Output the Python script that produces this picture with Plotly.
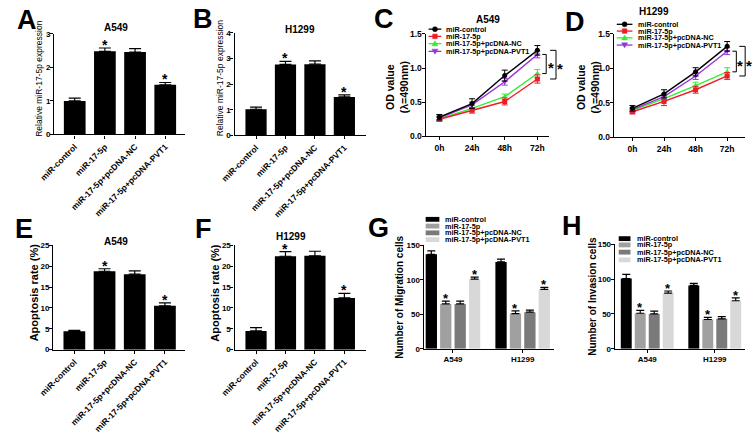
import plotly.graph_objects as go

# ---------------- data ----------------
groups = ["miR-control", "miR-17-5p", "miR-17-5p+pcDNA-NC", "miR-17-5p+pcDNA-PVT1"]

a_vals = [1.00, 2.48, 2.46, 1.48]
a_err = [0.08, 0.10, 0.10, 0.07]
b_vals = [1.02, 2.77, 2.78, 1.50]
b_err = [0.08, 0.12, 0.13, 0.08]

time_labels = ["0h", "24h", "48h", "72h"]
c_control = [0.28, 0.48, 0.89, 1.26]
c_control_err = [0.04, 0.07, 0.08, 0.07]
c_mir = [0.25, 0.38, 0.51, 0.84]
c_mir_err = [0.03, 0.04, 0.05, 0.06]
c_nc = [0.26, 0.41, 0.58, 0.92]
c_nc_err = [0.03, 0.04, 0.04, 0.06]
c_pvt1 = [0.27, 0.46, 0.80, 1.20]
c_pvt1_err = [0.03, 0.04, 0.05, 0.05]

d_control = [0.42, 0.63, 0.95, 1.32]
d_control_err = [0.04, 0.06, 0.06, 0.07]
d_mir = [0.37, 0.52, 0.69, 0.89]
d_mir_err = [0.03, 0.06, 0.05, 0.05]
d_nc = [0.39, 0.56, 0.75, 0.95]
d_nc_err = [0.03, 0.04, 0.05, 0.06]
d_pvt1 = [0.40, 0.59, 0.89, 1.25]
d_pvt1_err = [0.03, 0.04, 0.05, 0.05]

e_vals = [4.4, 18.8, 18.1, 10.5]
e_err = [0.2, 0.6, 0.8, 0.7]
f_vals = [4.5, 22.4, 22.5, 12.4]
f_err = [0.8, 1.1, 1.1, 1.1]

cell_lines = ["A549", "H1299"]
g_control = [137, 126]
g_control_err = [5, 4]
g_mir = [65, 51]
g_mir_err = [4, 4]
g_nc = [65, 53]
g_nc_err = [4, 3]
g_pvt1 = [101, 86]
g_pvt1_err = [3, 3]

h_control = [101, 91]
h_control_err = [6, 3]
h_mir = [51, 42]
h_mir_err = [4, 3]
h_nc = [50, 43]
h_nc_err = [4, 3]
h_pvt1 = [80, 69]
h_pvt1_err = [3, 4]

# ---------------- styling ----------------
W, H = 753, 434
FONT = "Liberation Sans, Arial, sans-serif"
line_colors = ["#000000", "#ee1c24", "#33ee33", "#9933dd"]
line_symbols = ["circle", "square", "triangle-up", "triangle-down"]
bar_grays = ["#000000", "#a0a0a0", "#7a7a7a", "#d8d8d8"]


def px(x):
    return x / W


def py(y):
    return 1 - y / H


fig = go.Figure()
annotations = []
shapes = []


def ax_names(i):
    s = "" if i == 1 else str(i)
    return "x" + s, "y" + s, "xaxis" + s, "yaxis" + s


def axis_style(size=8.5):
    return dict(showline=True, linecolor="black", linewidth=1.3, ticks="outside",
                ticklen=3, tickwidth=1.2, tickcolor="black", showgrid=False,
                zeroline=False, tickfont=dict(family=FONT, size=size, color="black", weight="bold"))


def text(x, y, t, size, bold=True, xref="paper", yref="paper", angle=0,
         xanchor="center", yanchor="middle", yshift=0, color="black"):
    annotations.append(dict(x=x, y=y, xref=xref, yref=yref, text=t, showarrow=False,
                            textangle=angle, xanchor=xanchor, yanchor=yanchor, yshift=yshift,
                            font=dict(family=FONT, size=size, color=color,
                                      weight="bold" if bold else "normal")))


def bar_panel(i, vals, errs, stars, dom, xr, ymax, dtick, title, tpos, ytitle, ypos, ysize, ybold):
    xa, ya, xk, yk = ax_names(i)
    fig.add_trace(go.Bar(x=list(range(len(vals))), y=vals, width=0.72, marker_color="black",
                         marker_line_width=0, xaxis=xa, yaxis=ya, showlegend=False,
                         error_y=dict(type="data", symmetric=False, array=errs,
                                      arrayminus=[0] * len(errs), color="black",
                                      thickness=1.2, width=6)))
    xs = axis_style()
    xs.update(domain=[px(dom[0]), px(dom[1])], range=xr, anchor=ya,
              tickvals=list(range(len(vals))), ticktext=groups, tickangle=-45)
    xs["tickfont"] = dict(family=FONT, size=8.5, color="black", weight="bold")
    ys = axis_style(8)
    ys.update(domain=[py(dom[3]), py(dom[2])], range=[0, ymax], dtick=dtick, anchor=xa,
              ticklabelstandoff=-2)
    fig.layout[xk] = xs
    fig.layout[yk] = ys
    for s in stars:
        text(s, vals[s] + errs[s], "*", 14, xref=xa, yref=ya, yanchor="bottom", yshift=-7)
    text(px(tpos[0]), py(tpos[1]), title, 10)
    text(px(ypos[0]), py(ypos[1]), ytitle, ysize, bold=ybold, angle=-90)


def line_panel(i, series, errs, dom, xr, title, tpos, ypos, brackets, legend_pos):
    xa, ya, xk, yk = ax_names(i)
    for k in [2, 1, 3, 0]:
        fig.add_trace(go.Scatter(x=list(range(4)), y=series[k], mode="lines+markers",
                                 line=dict(color=line_colors[k], width=1.4),
                                 marker=dict(symbol=line_symbols[k], size=5, color=line_colors[k]),
                                 error_y=dict(type="data", array=errs[k], color=line_colors[k],
                                              thickness=1, width=3),
                                 xaxis=xa, yaxis=ya, showlegend=False))
    xs = axis_style()
    xs.update(domain=[px(dom[0]), px(dom[1])], range=xr, anchor=ya,
              tickvals=list(range(4)), ticktext=time_labels)
    ys = axis_style()
    ys.update(domain=[py(dom[3]), py(dom[2])], range=[0, 1.5], dtick=0.5, anchor=xa,
              tickformat=".1f", ticklabelstandoff=-2)
    fig.layout[xk] = xs
    fig.layout[yk] = ys
    text(px(tpos[0]), py(tpos[1]), title, 10)
    text(px(ypos[0]), py(ypos[1]), "OD value<br>(λ=490nm)", 10.5, angle=-90)
    # significance brackets built from the 72h values
    for (xv, tick, hi, lo, sx) in brackets:
        yt, yb = series[hi][3], series[lo][3]
        shapes.append(dict(type="path", xref="paper", yref=ya, line=dict(color="black", width=1),
                           path=f"M{px(xv - tick)},{yt} L{px(xv)},{yt} L{px(xv)},{yb} L{px(xv - tick)},{yb}"))
        text(px(sx), (yt + yb) / 2, "*", 15, xref="paper", yref=ya, yshift=-4)
    # legend
    lx0, lx1, tx, ys_ = legend_pos
    tri = {"triangle-up": "M-3,-2.2 L3,-2.2 L0,2.8 Z", "triangle-down": "M-3,2.2 L3,2.2 L0,-2.8 Z"}
    for k in range(4):
        yy = ys_[k]
        shapes.append(dict(type="line", xref="paper", yref="paper", x0=px(lx0), x1=px(lx1),
                           y0=py(yy), y1=py(yy), line=dict(color=line_colors[k], width=1.3)))
        cx = (lx0 + lx1) / 2
        sym = line_symbols[k]
        base = dict(xref="paper", yref="paper", xsizemode="pixel", ysizemode="pixel",
                    xanchor=px(cx), yanchor=py(yy), fillcolor=line_colors[k],
                    line=dict(color=line_colors[k], width=0.5))
        if sym == "circle":
            base.update(type="circle", x0=-2.5, x1=2.5, y0=-2.5, y1=2.5)
        elif sym == "square":
            base.update(type="rect", x0=-2.3, x1=2.3, y0=-2.3, y1=2.3)
        else:
            base.update(type="path", path=tri[sym])
        shapes.append(base)
        text(px(tx), py(yy), groups[k], 7.2, xanchor="left")


def group_panel(i, series, errs, dom, xr, ytitle, ypos, legend_pos):
    xa, ya, xk, yk = ax_names(i)
    step, bw = 0.207, 0.162
    for k in range(4):
        off = -2 * step + k * step + (step - bw) / 2
        fig.add_trace(go.Bar(x=[0, 1], y=series[k], width=bw, offset=off,
                             marker_color=bar_grays[k], marker_line_width=0,
                             xaxis=xa, yaxis=ya, showlegend=False,
                             error_y=dict(type="data", symmetric=False, array=errs[k],
                                          arrayminus=[0, 0], color="black", thickness=1.2, width=4)))
        if k in (1, 3):
            for j in range(2):
                text(j + off + bw / 2, series[k][j] + errs[k][j], "*", 13, xref=xa, yref=ya,
                     yanchor="bottom", yshift=-7)
    xs = axis_style(8)
    xs.update(domain=[px(dom[0]), px(dom[1])], range=xr, anchor=ya,
              tickvals=[0, 1], ticktext=cell_lines)
    ys = axis_style(8)
    ys.update(domain=[py(dom[3]), py(dom[2])], range=[0, 150], dtick=50, anchor=xa,
              ticklabelstandoff=-2)
    fig.layout[xk] = xs
    fig.layout[yk] = ys
    text(px(ypos[0]), py(ypos[1]), ytitle, 10, angle=-90)
    sx0, sx1, tx, ys_ = legend_pos
    for k in range(4):
        yy = ys_[k]
        shapes.append(dict(type="rect", xref="paper", yref="paper", x0=px(sx0), x1=px(sx1),
                           y0=py(yy - 2.5), y1=py(yy + 2.5), fillcolor=bar_grays[k], line_width=0))
        text(px(tx), py(yy), groups[k], 7.3, xanchor="left")


bar_panel(1, a_vals, a_err, [1, 3], (40, 173, 30, 134), [-0.68, 3.64], 3, 1, "A549", (103, 23),
          "Relative miR-17-5p expression", (25, 77), 8.5, False)
bar_panel(2, b_vals, b_err, [1, 3], (224, 358, 29, 135), [-0.73, 3.73], 4, 1, "H1299", (291, 25),
          "Relative miR-17-5p expression", (210, 76), 8.5, False)
line_panel(3, [c_control, c_mir, c_nc, c_pvt1],
           [c_control_err, c_mir_err, c_nc_err, c_pvt1_err],
           (419, 545, 30, 136), [-0.42, 3.36], "A549", (483, 15), (390, 85),
           [(542, 4, 3, 2, 546.5), (552, 6, 0, 1, 556)],
           (422, 435, 438, [25, 32.5, 40, 48]))
line_panel(4, [d_control, d_mir, d_nc, d_pvt1],
           [d_control_err, d_mir_err, d_nc_err, d_pvt1_err],
           (611, 745, 30, 137), [-0.59, 3.57], "H1299", (652, 7), (585, 85),
           [(736, 4, 3, 2, 740), (745, 6, 0, 1, 748.5)],
           (614, 630, 634, [20, 27, 34, 41.5]))
bar_panel(5, e_vals, e_err, [1, 3], (39, 173, 249, 357), [-0.7, 3.65], 25, 5, "A549", (103, 245),
          "Apoptosis rate (%)", (19, 298), 11, True)
bar_panel(6, f_vals, f_err, [1, 3], (224, 358, 249, 357), [-0.73, 3.73], 25, 5, "H1299", (282, 240),
          "Apoptosis rate (%)", (204, 298), 11, True)
group_panel(7, [g_control, g_mir, g_nc, g_pvt1], [g_control_err, g_mir_err, g_nc_err, g_pvt1_err],
            (417, 550, 249, 356), [-0.42, 1.45], "Number of Migration cells", (392, 303),
            (419, 433, 437, [222, 229, 236, 243]))
group_panel(8, [h_control, h_mir, h_nc, h_pvt1], [h_control_err, h_mir_err, h_nc_err, h_pvt1_err],
            (612, 745, 248, 356), [-0.48, 1.45], "Number of Invasion cells", (589, 302),
            (616, 628, 633, [242, 248.5, 256, 264]))

# panel letters
for letter, (lx, ly) in {"A": (12, 16), "B": (192, 15), "C": (376, 15), "D": (571, 18),
                         "E": (9, 232), "F": (192, 232), "G": (371, 231), "H": (568, 229)}.items():
    text(px(lx), py(ly), letter, 27)

fig.update_layout(width=W, height=H, margin=dict(l=0, r=0, t=0, b=0),
                  paper_bgcolor="white", plot_bgcolor="white", barmode="overlay",
                  annotations=annotations, shapes=shapes, showlegend=False,
                  font=dict(family=FONT, color="black"))
fig.write_html("out.html", config={"displayModeBar": False},
               post_script="document.body.style.margin='0';document.body.style.padding='0';")
